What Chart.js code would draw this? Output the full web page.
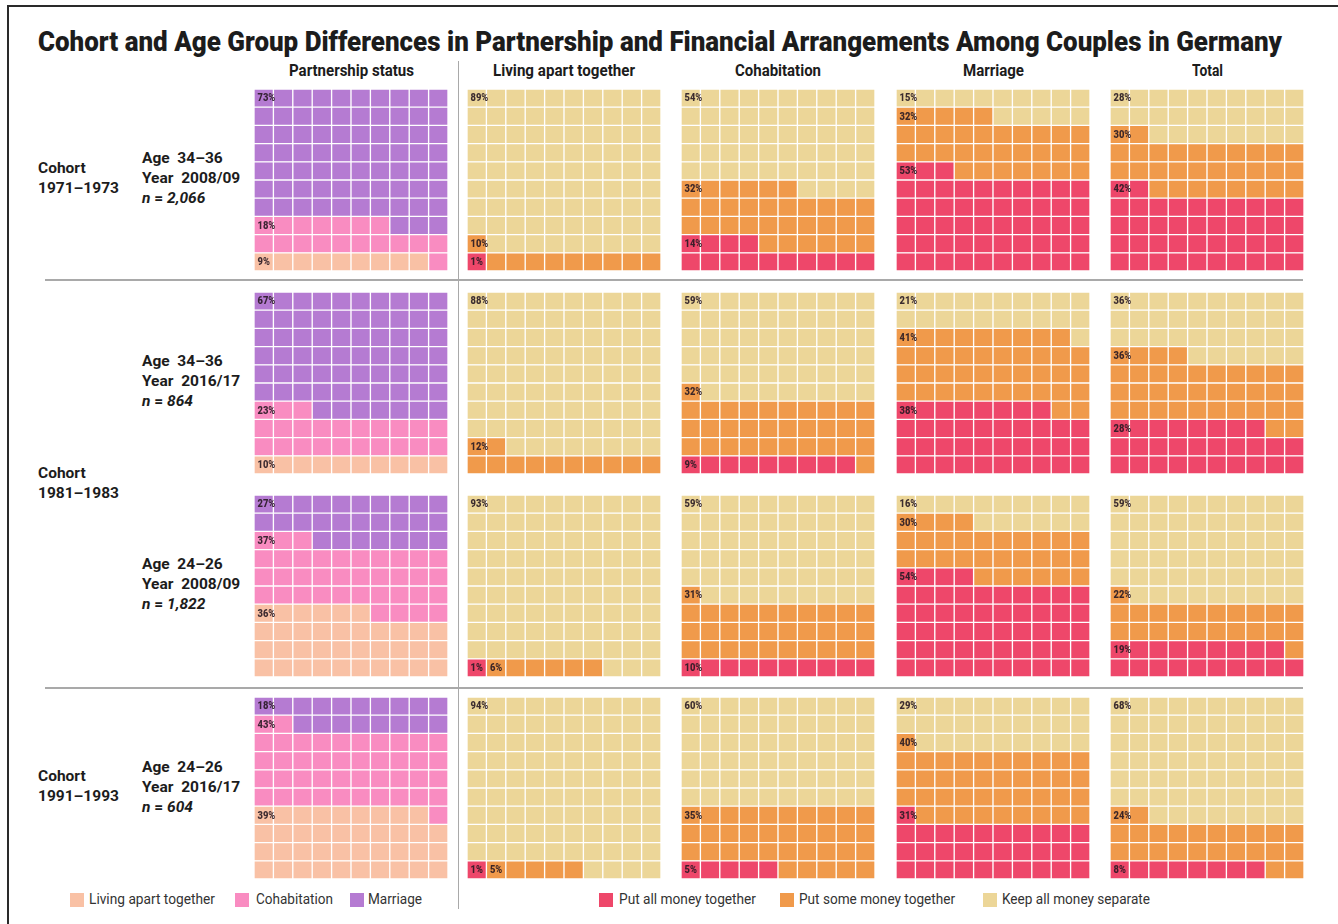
<!DOCTYPE html>
<html>
<head>
<meta charset="utf-8">
<script src="https://cdn.jsdelivr.net/npm/chart.js@4.4.1/dist/chart.umd.min.js"></script>
<style>
    body { margin: 0; background: #fff; font-family: Roboto, "Open Sans", sans-serif; color: #1c1c1c; }
    #page { position: relative; width: 1338px; height: 924px; overflow: hidden; background: #fff; }
    .txt { position: absolute; white-space: pre; transform-origin: 0 0; }
    .bold { font-weight: 700; }
    .heavy { font-weight: 900; }
    .line { position: absolute; background: #a9a9a9; }
    .box { position: absolute; width: 14px; height: 14px; }
    canvas { position: absolute; }
</style>
</head>
<body>
<div id="page"></div>
<script>
// ---- data ----
var title = 'Cohort and Age Group Differences in Partnership and Financial Arrangements Among Couples in Germany';
var columnTitles = ['Partnership status', 'Living apart together', 'Cohabitation', 'Marriage', 'Total'];
var cohortLabels = ['1971\u20131973', '1981\u20131983', '1991\u20131993'];
var groupAge = ['34\u201336', '34\u201336', '24\u201326', '24\u201326'];
var groupYear = ['2008/09', '2016/17', '2008/09', '2016/17'];
var groupN = ['2,066', '864', '1,822', '604'];

var partnershipLabels = ['Living apart together', 'Cohabitation', 'Marriage'];
var moneyLabels = ['Put all money together', 'Put some money together', 'Keep all money separate'];

// shares in % per group (rows of the figure), order as stacked from the bottom
var partnershipShares = [[9, 18, 73], [10, 23, 67], [36, 37, 27], [39, 43, 18]];
var latMoney = [[1, 10, 89], [0, 12, 88], [1, 6, 93], [1, 5, 94]];
var cohabMoney = [[14, 32, 54], [9, 32, 59], [10, 31, 59], [5, 35, 60]];
var marriageMoney = [[53, 32, 15], [38, 41, 21], [54, 30, 16], [31, 40, 29]];
var totalMoney = [[42, 30, 28], [28, 36, 36], [19, 22, 59], [8, 24, 68]];

var partnershipColors = ['#f9c1a5', '#f98cc1', '#b57bd2'];
var moneyColors = ['#ee476a', '#f09a4b', '#ecd698'];

// ---- layout ----
var page = document.getElementById('page');
var colX = [255, 468, 682, 897, 1111];
var rowY = [90, 293, 495.5, 698];
var waffleW = 192, waffleH = 180;

function addText(str, x, y, size, cls, targetW) {
    var el = document.createElement('div');
    el.className = 'txt ' + (cls || '');
    el.style.left = x + 'px';
    el.style.top = y + 'px';
    el.style.fontSize = size + 'px';
    el.style.lineHeight = '20px';
    el.innerHTML = str;
    page.appendChild(el);
    if (targetW) {
        var w = el.getBoundingClientRect().width;
        el.style.transform = 'scaleX(' + (targetW / w) + ')';
    }
    return el;
}

function addLine(x, y, w, h, color) {
    var el = document.createElement('div');
    el.className = 'line';
    el.style.left = x + 'px'; el.style.top = y + 'px';
    el.style.width = w + 'px'; el.style.height = h + 'px';
    if (color) el.style.background = color;
    page.appendChild(el);
}

// frame + separators
addLine(7, 5, 1331, 1.5, '#2a2a2a');
addLine(7, 5, 1.5, 919, '#2a2a2a');
addLine(45, 279, 1258, 1.5);
addLine(45, 687, 1258, 1.5);
addLine(457.5, 61, 1.5, 848);

// title and column headings
var t = addText(title, 38, 25, 28.5, 'heavy', 1244);
t.style.lineHeight = '34px';
var headW = [125, 142, 86, 61, 31];
columnTitles.forEach(function (c, i) {
    var el = addText(c, 0, 61, 16, 'bold', headW[i]);
    el.style.left = (colX[i] + waffleW / 2 - headW[i] / 2) + 'px';
});

// row labels
var cohortTop = [158, 463, 766];
cohortLabels.forEach(function (c, i) {
    addText('Cohort\n' + c, 38, cohortTop[i], 15.5, 'bold');
});
var groupTop = [148, 351, 554, 757];
groupAge.forEach(function (a, i) {
    addText('Age  ' + a + '\nYear  ' + groupYear[i] + '\n<i>n</i> = <i>' + groupN[i] + '</i>', 142, groupTop[i], 15.5, 'bold');
});

// legends
var legLeft = [[70, 89, 126], [235, 256, 77], [350, 368, 54]];
partnershipLabels.forEach(function (l, i) {
    var b = document.createElement('div');
    b.className = 'box'; b.style.left = legLeft[i][0] + 'px'; b.style.top = '893px';
    b.style.background = partnershipColors[i];
    page.appendChild(b);
    var el = addText(l, legLeft[i][1], 890, 14.5, '', legLeft[i][2]);
    el.style.color = '#333';
});
var legRight = [[599, 619, 137], [780, 799, 156], [983, 1002, 148]];
moneyLabels.forEach(function (l, i) {
    var b = document.createElement('div');
    b.className = 'box'; b.style.left = legRight[i][0] + 'px'; b.style.top = '893px';
    b.style.background = moneyColors[i];
    page.appendChild(b);
    var el = addText(l, legRight[i][1], 890, 14.5, '', legRight[i][2]);
    el.style.color = '#333';
});

// ---- waffles ----
var cellLabels = {
    id: 'cellLabels',
    afterDatasetsDraw: function (chart, args, opts) {
        var ctx = chart.ctx;
        var start = 0;
        opts.counts.forEach(function (n) {
            if (n > 0) {
                var end = start + n - 1;
                var row = Math.floor(end / 10);
                var col = row === Math.floor(start / 10) ? start % 10 : 0;
                var bar = chart.getDatasetMeta(row).data[col];
                var p = bar.getProps(['x', 'y', 'base', 'width'], true);
                ctx.save();
                ctx.translate(p.x - p.width / 2 + 3.5, (p.y + p.base) / 2 + 0.5);
                ctx.scale(0.85, 1);
                ctx.font = '900 11px Roboto';
                ctx.fillStyle = 'rgba(40,25,35,0.9)';
                ctx.textBaseline = 'middle';
                ctx.fillText(n + '%', 0, 0);
                ctx.restore();
            }
            start += n;
        });
    }
};

function cellColor(counts, colors, idx) {
    var acc = 0;
    for (var k = 0; k < counts.length; k++) {
        acc += counts[k];
        if (idx < acc) return colors[k];
    }
    return colors[colors.length - 1];
}

function drawWaffle(x, y, counts, colors) {
    var cv = document.createElement('canvas');
    cv.width = waffleW + 2; cv.height = waffleH + 2;
    cv.style.left = (x - 1) + 'px'; cv.style.top = (y - 1) + 'px';
    page.appendChild(cv);
    var cols = ['1', '2', '3', '4', '5', '6', '7', '8', '9', '10'];
    var datasets = [];
    for (var r = 0; r < 10; r++) {
        datasets.push({
            data: cols.map(function () { return 1; }),
            backgroundColor: cols.map(function (c, j) { return cellColor(counts, colors, r * 10 + j); }),
            borderColor: '#fff',
            borderWidth: 1,
            borderSkipped: false,
            barPercentage: 1,
            categoryPercentage: 1,
            stack: 'w'
        });
    }
    new Chart(cv, {
        type: 'bar',
        data: { labels: cols, datasets: datasets },
        options: {
            responsive: false,
            animation: false,
            events: [],
            layout: { padding: 0 },
            scales: {
                x: { stacked: true, display: false },
                y: { stacked: true, display: false, min: 0, max: 10 }
            },
            plugins: {
                legend: { display: false },
                tooltip: { enabled: false },
                cellLabels: { counts: counts }
            }
        },
        plugins: [cellLabels]
    });
}

var moneyPanels = [latMoney, cohabMoney, marriageMoney, totalMoney];
for (var g = 0; g < 4; g++) {
    drawWaffle(colX[0], rowY[g], partnershipShares[g], partnershipColors);
    for (var m = 0; m < 4; m++) {
        drawWaffle(colX[m + 1], rowY[g], moneyPanels[m][g], moneyColors);
    }
}
</script>
</body>
</html>
